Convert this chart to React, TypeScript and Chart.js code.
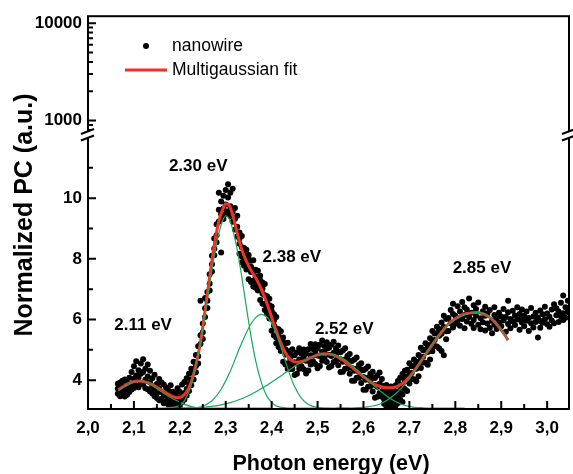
import React, { useEffect, useRef } from "react";
import { Chart, registerables } from "chart.js";

Chart.register(...registerables);

// ---------- data ----------
// Each row: photon energy (eV), then the normalized PC readings at that energy
const nanowireRows: number[][] = [
  [2.065, 3.72, 3.55, 3.88], [2.07, 3.64, 3.92, 3.47], [2.075, 3.81, 3.58, 3.98],
  [2.08, 3.7, 3.46, 4.02], [2.085, 3.93, 3.66, 3.52], [2.09, 4.08, 3.79, 3.61],
  [2.095, 4.27, 3.86, 3.69], [2.1, 4.46, 4.05, 3.74], [2.105, 4.62, 4.15, 3.83],
  [2.11, 4.33, 4.08, 3.77], [2.115, 4.55, 3.9, 4.21], [2.12, 4.69, 4.27, 3.86],
  [2.125, 4.38, 4.01, 3.73], [2.13, 4.12, 3.7, 4.52], [2.135, 3.93, 4.31, 3.63],
  [2.14, 3.8, 4.06, 3.57], [2.145, 4.18, 3.72, 3.47], [2.15, 3.87, 3.56, 3.41],
  [2.155, 3.73, 4.04, 3.34], [2.16, 3.61, 3.92, 3.38], [2.165, 3.49, 3.86, 3.24],
  [2.17, 3.57, 3.31, 3.76], [2.175, 3.41, 3.66, 3.19], [2.18, 3.51, 3.26, 3.83],
  [2.185, 3.33, 3.14, 3.62], [2.19, 3.27, 3.56, 3.1], [2.195, 3.44, 3.19, 3.73],
  [2.2, 3.37, 3.13, 3.61], [2.205, 3.5, 3.27, 3.86], [2.21, 3.58, 3.36, 3.94],
  [2.215, 3.71, 3.49, 4.06], [2.22, 3.87, 3.64, 4.21], [2.225, 4.02, 3.83, 4.38],
  [2.23, 4.24, 4.02, 4.61], [2.235, 4.47, 4.26, 4.83], [2.24, 4.79, 5.12, 4.55],
  [2.245, 5.19, 5.48, 6.62], [2.25, 5.58, 5.87, 5.36], [2.255, 6.08, 6.37, 6.71],
  [2.26, 6.62, 6.91, 6.38], [2.265, 7.18, 7.49, 6.96], [2.27, 7.82, 8.1, 7.58],
  [2.275, 8.33, 8.67, 8.12], [2.28, 8.78, 9.14, 8.55], [2.285, 9.23, 9.62, 10.18],
  [2.29, 9.47, 9.89, 8.21], [2.295, 9.66, 10.08, 9.31], [2.3, 9.79, 10.27, 9.48],
  [2.305, 10.02, 10.46, 9.57], [2.31, 9.73, 10.18, 9.41], [2.315, 9.55, 10.31, 9.22],
  [2.32, 9.31, 9.68, 8.97], [2.325, 9.06, 9.42, 8.74],
  [2.33, 8.87, 8.5, 8.17, 8.67], [2.335, 8.38, 8.75, 8.08, 7.89], [2.34, 7.95, 8.36, 8.14, 7.77],
  [2.345, 8.3, 7.65, 8.09, 7.84], [2.35, 7.75, 7.98, 7.33, 8.13], [2.355, 7.94, 7.57, 7.24, 7.74],
  [2.36, 7.58, 7.95, 7.28, 7.09], [2.365, 7.23, 7.64, 7.42, 7.05], [2.37, 7.61, 6.96, 7.4, 7.15],
  [2.375, 7.06, 7.29, 6.64, 7.44], [2.38, 7.22, 6.85, 6.52, 7.02], [2.385, 6.8, 7.17, 6.5, 6.31],
  [2.39, 6.36, 6.77, 6.55, 6.18], [2.395, 6.68, 6.03, 6.47, 6.22], [2.4, 6.05, 6.28, 5.63, 6.43],
  [2.405, 6.17, 5.8, 5.47, 5.97], [2.41, 5.71, 6.08, 5.41, 5.22], [2.415, 5.27, 5.68, 5.46, 5.09],
  [2.42, 5.61, 4.96, 5.4, 5.15], [2.425, 5.03, 5.26, 4.61, 5.41], [2.43, 5.22, 4.85, 4.52, 5.02],
  [2.435, 4.86, 5.23, 4.56, 4.37], [2.44, 4.55, 4.96, 4.74, 4.37], [2.445, 5.02, 4.37, 4.81, 4.56],
  [2.45, 4.59, 4.82, 4.17], [2.455, 4.91, 4.54, 4.21], [2.46, 4.68, 5.05, 4.38],
  [2.465, 4.46, 4.87, 4.65], [2.47, 5.01, 4.36, 4.8], [2.475, 4.64, 4.87, 4.22],
  [2.48, 5.02, 4.65, 4.32], [2.485, 4.82, 5.19, 4.52], [2.49, 4.62, 5.03, 4.81],
  [2.495, 5.18, 4.53, 4.97], [2.5, 4.81, 5.04, 4.39], [2.505, 5.17, 4.8, 4.47],
  [2.51, 4.94, 5.31, 4.64], [2.515, 4.72, 5.13, 4.91], [2.52, 5.25, 4.6, 5.04],
  [2.525, 4.84, 5.07, 4.42], [2.53, 5.17, 4.8, 4.47], [2.535, 4.9, 5.27, 4.6],
  [2.54, 4.64, 5.05, 4.83], [2.545, 5.14, 4.49, 4.93], [2.55, 4.69, 4.92, 4.27],
  [2.555, 4.98, 4.61, 4.28], [2.56, 4.68, 5.05, 4.38], [2.565, 4.39, 4.8, 4.58],
  [2.57, 4.86, 4.21, 4.65], [2.575, 4.4, 4.63, 3.98], [2.58, 4.68, 4.31, 3.98],
  [2.585, 4.38, 4.75, 4.08], [2.59, 4.09, 4.5, 4.28], [2.595, 4.56, 3.91, 4.35],
  [2.6, 4.1, 4.33, 3.68], [2.605, 4.38, 4.01, 3.68], [2.61, 4.08, 4.45, 3.78],
  [2.615, 3.8, 4.21, 3.99], [2.62, 4.28, 3.63, 4.07], [2.625, 3.84, 4.07, 3.42],
  [2.63, 4.15, 3.78, 3.45], [2.635, 3.88, 4.25, 3.58], [2.64, 3.63, 4.04, 3.82, 3.45],
  [2.645, 3.67, 3.37, 3.22, 3.52], [2.65, 3.61, 3.34, 3.13, 3.84], [2.655, 3.68, 3.28, 3.1, 3.45],
  [2.66, 3.57, 3.27, 3.14, 3.79], [2.665, 3.72, 3.34, 3.11, 3.5], [2.67, 3.83, 3.48, 3.16, 3.62],
  [2.675, 3.97, 3.6, 3.25, 3.41], [2.68, 4.08, 3.77, 3.35, 3.58], [2.685, 4.2, 3.86, 3.53, 3.28],
  [2.69, 4.31, 3.98, 4.12, 3.71], [2.695, 4.34, 3.97, 3.64], [2.7, 4.19, 4.56, 3.89],
  [2.705, 4.05, 4.46, 4.24], [2.71, 4.68, 4.03, 4.47], [2.715, 4.38, 4.61, 3.96],
  [2.72, 4.83, 4.46, 4.13], [2.725, 4.7, 5.07, 4.4], [2.73, 4.58, 4.99, 4.77],
  [2.735, 5.22, 4.57, 5.01], [2.74, 4.93, 5.16, 4.51], [2.745, 5.38, 5.01, 4.68],
  [2.75, 5.25, 5.62, 4.95], [2.755, 5.13, 5.54, 5.32], [2.76, 5.76, 5.11, 5.55],
  [2.765, 5.46, 5.69, 5.04], [2.77, 5.9, 5.53, 4.96], [2.775, 5.75, 6.12, 4.82],
  [2.78, 5.61, 6.02, 5.35], [2.785, 6.05, 5.62], [2.79, 6.31, 5.88],
  [2.795, 5.74, 6.18, 6.52], [2.8, 6.12, 5.86], [2.805, 6.44, 5.95],
  [2.81, 5.79, 6.26], [2.815, 6.58, 6.02], [2.82, 6.15, 5.71, 6.4],
  [2.825, 5.93, 6.33], [2.83, 6.69, 6.08], [2.835, 5.86, 6.22],
  [2.84, 6.47, 5.98, 5.72], [2.845, 6.12, 6.35], [2.85, 5.83, 6.56],
  [2.855, 6.04, 5.68], [2.86, 6.27, 5.91], [2.865, 5.64, 6.12, 6.42],
  [2.87, 5.87, 6.2], [2.875, 6.31, 5.72], [2.88, 5.96, 5.55],
  [2.885, 6.15, 5.83, 6.4], [2.89, 5.69, 6.05], [2.895, 6.22, 5.9],
  [2.9, 5.78, 6.1], [2.905, 6.35, 5.97], [2.91, 5.6, 6.08],
  [2.915, 6.62, 5.85, 6.24], [2.92, 6.02, 5.71], [2.925, 6.29, 5.94],
  [2.93, 5.82, 6.13], [2.935, 6.4, 6.0], [2.94, 5.66, 6.18],
  [2.945, 6.07, 5.9, 6.33], [2.95, 5.78, 6.12], [2.955, 6.26, 5.96],
  [2.96, 5.62, 6.05], [2.965, 6.38, 5.88], [2.97, 6.1, 5.74],
  [2.975, 5.92, 6.22], [2.98, 5.41, 6.06], [2.985, 5.73, 6.3, 5.95],
  [2.99, 6.17, 5.89], [2.995, 6.42, 6.01], [3.0, 5.84, 6.2],
  [3.005, 6.09, 5.76], [3.01, 6.33, 5.97], [3.015, 5.88, 6.5],
  [3.02, 6.14, 6.37], [3.025, 5.92, 6.26], [3.03, 6.55, 6.1],
  [3.035, 6.79, 6.21, 5.98], [3.04, 6.4, 6.06], [3.045, 6.62, 6.25],
];

// Multigaussian fit (sum)
const fitEnergy = [2.066, 2.08, 2.095, 2.11, 2.125, 2.14, 2.155, 2.17, 2.185, 2.195, 2.205, 2.215, 2.225, 2.235, 2.245, 2.255, 2.265, 2.275, 2.285, 2.293, 2.3, 2.307, 2.315, 2.325, 2.335, 2.345, 2.355, 2.365, 2.375, 2.385, 2.395, 2.405, 2.415, 2.425, 2.435, 2.445, 2.455, 2.47, 2.485, 2.5, 2.515, 2.53, 2.545, 2.56, 2.575, 2.59, 2.605, 2.62, 2.635, 2.65, 2.665, 2.68, 2.695, 2.71, 2.725, 2.74, 2.755, 2.77, 2.785, 2.8, 2.815, 2.83, 2.845, 2.86, 2.875, 2.89, 2.905, 2.915];
const fitPC = [3.68, 3.82, 3.93, 3.97, 3.94, 3.85, 3.72, 3.58, 3.46, 3.42, 3.46, 3.62, 3.95, 4.5, 5.25, 6.3, 7.4, 8.45, 9.25, 9.62, 9.82, 9.78, 9.45, 8.85, 8.3, 7.92, 7.62, 7.38, 7.08, 6.72, 6.3, 5.85, 5.42, 5.05, 4.78, 4.64, 4.59, 4.63, 4.74, 4.83, 4.87, 4.85, 4.76, 4.6, 4.42, 4.24, 4.06, 3.9, 3.8, 3.75, 3.76, 3.84, 4.02, 4.3, 4.62, 4.95, 5.28, 5.58, 5.85, 6.03, 6.15, 6.21, 6.23, 6.19, 6.07, 5.84, 5.55, 5.32];

// Gaussian components
const peak211Energy = [2.066, 2.08, 2.095, 2.11, 2.125, 2.14, 2.155, 2.17, 2.18, 2.195, 2.21, 2.225, 2.24, 2.26, 2.29, 2.33, 2.4];
const peak211PC = [3.66, 3.8, 3.92, 3.97, 3.94, 3.83, 3.67, 3.52, 3.43, 3.31, 3.2, 3.13, 3.09, 3.08, 3.08, 3.08, 3.08];

const peak230Energy = [2.14, 2.17, 2.19, 2.205, 2.215, 2.225, 2.235, 2.245, 2.255, 2.265, 2.275, 2.285, 2.293, 2.3, 2.307, 2.315, 2.325, 2.335, 2.345, 2.355, 2.365, 2.375, 2.385, 2.395, 2.41, 2.43, 2.46, 2.5];
const peak230PC = [3.08, 3.09, 3.12, 3.22, 3.45, 3.85, 4.45, 5.2, 6.15, 7.15, 8.1, 8.85, 9.25, 9.42, 9.33, 8.98, 8.3, 7.4, 6.4, 5.45, 4.65, 4.05, 3.62, 3.35, 3.15, 3.09, 3.08, 3.08];

const peak238Energy = [2.2, 2.23, 2.25, 2.27, 2.29, 2.31, 2.33, 2.35, 2.365, 2.377, 2.39, 2.405, 2.42, 2.435, 2.45, 2.465, 2.48, 2.5, 2.53, 2.57];
const peak238PC = [3.08, 3.09, 3.14, 3.32, 3.7, 4.3, 5.05, 5.72, 6.06, 6.17, 6.08, 5.72, 5.1, 4.38, 3.78, 3.4, 3.2, 3.1, 3.08, 3.08];

const peak252Energy = [2.18, 2.22, 2.26, 2.3, 2.34, 2.38, 2.42, 2.46, 2.49, 2.52, 2.55, 2.58, 2.6, 2.62, 2.64, 2.66, 2.68, 2.7, 2.73, 2.77, 2.82];
const peak252PC = [3.08, 3.09, 3.12, 3.22, 3.42, 3.74, 4.14, 4.55, 4.78, 4.87, 4.76, 4.42, 4.14, 3.86, 3.6, 3.38, 3.22, 3.13, 3.09, 3.08, 3.08];

const peak285Energy = [2.54, 2.58, 2.61, 2.64, 2.67, 2.7, 2.72, 2.74, 2.76, 2.78, 2.8, 2.82, 2.84, 2.85, 2.86, 2.88, 2.9, 2.915];
const peak285PC = [3.08, 3.09, 3.12, 3.24, 3.55, 4.05, 4.5, 4.97, 5.4, 5.75, 6.0, 6.16, 6.22, 6.23, 6.2, 6.02, 5.65, 5.32];

// Peak annotations (anchored in data units)
const peakLabels = ["2.30 eV", "2.38 eV", "2.11 eV", "2.52 eV", "2.85 eV"];
const peakLabelEnergy = [2.24, 2.444, 2.12, 2.558, 2.858];
const peakLabelPC = [11.05, 8.05, 5.8, 5.68, 7.68];

// Axis tick labels
const xTickLabels = ["2,0", "2,1", "2,2", "2,3", "2,4", "2,5", "2,6", "2,7", "2,8", "2,9", "3,0"];
const yLinTickValues = [4, 5, 6, 7, 8, 9, 10, 11];
const yLinTickLabels = ["4", "", "6", "", "8", "", "10", ""];
const yLogTickValues = [1000, 10000];
const yLogTickLabels = ["1000", "10000"];

const seriesNames = ["nanowire", "Multigaussian fit"];

// ---------- styling ----------
const FONT = "'Liberation Sans', Arial, Helvetica, sans-serif";
const RED = "#ef3323";
const GREEN = "#16a85c";

const toPoints = (xs: number[], ys: number[]) => xs.map((x, i) => ({ x, y: ys[i] }));

const decoPlugin = {
  id: "deco",
  afterDatasetsDraw(chart: any) {
    const { ctx, chartArea: a, scales } = chart;
    const xS = scales.x;
    const yLin = scales.yLin;
    const yLog = scales.yLog;
    ctx.save();
    // frame
    ctx.strokeStyle = "#000";
    ctx.lineWidth = 2;
    ctx.strokeRect(a.left, a.top, a.right - a.left, a.bottom - a.top);

    ctx.beginPath();
    // x ticks (inward)
    xS.ticks.forEach((t: any, i: number) => {
      const px = xS.getPixelForValue(t.value);
      const len = i % 2 === 0 ? 8 : 5;
      ctx.moveTo(px, a.bottom);
      ctx.lineTo(px, a.bottom - len);
    });
    // linear y ticks
    yLin.ticks.forEach((t: any, i: number) => {
      const py = yLin.getPixelForValue(t.value);
      const len = yLinTickLabels[i] ? 8 : 5;
      ctx.moveTo(a.left, py);
      ctx.lineTo(a.left + len, py);
    });
    // log y ticks: majors + minors (2..9 x decade)
    for (let d = 100; d <= 10000; d *= 10) {
      for (let m = 1; m <= 9; m++) {
        const v = d * m;
        if (v < yLog.min || v > yLog.max) continue;
        const py = yLog.getPixelForValue(v);
        const len = m === 1 ? 8 : 5;
        ctx.moveTo(a.left, py);
        ctx.lineTo(a.left + len, py);
      }
    }
    ctx.stroke();

    // axis breaks
    const yb = yLog.bottom + 0.5;
    [a.left, a.right].forEach((bx) => {
      ctx.fillStyle = "#fff";
      ctx.beginPath();
      ctx.moveTo(bx - 7, yb);
      ctx.lineTo(bx + 6, yb - 5);
      ctx.lineTo(bx + 6, yb + 1.5);
      ctx.lineTo(bx - 7, yb + 6.5);
      ctx.closePath();
      ctx.fill();
      ctx.beginPath();
      ctx.moveTo(bx - 7, yb);
      ctx.lineTo(bx + 6, yb - 5);
      ctx.moveTo(bx - 7, yb + 6.5);
      ctx.lineTo(bx + 6, yb + 1.5);
      ctx.stroke();
    });

    // peak labels
    ctx.fillStyle = "#000";
    ctx.font = `bold 17px ${FONT}`;
    ctx.textAlign = "center";
    ctx.textBaseline = "middle";
    peakLabels.forEach((s, i) => {
      ctx.fillText(s, xS.getPixelForValue(peakLabelEnergy[i]), yLin.getPixelForValue(peakLabelPC[i]));
    });

    // legend
    ctx.font = `17.5px ${FONT}`;
    ctx.textAlign = "left";
    ctx.beginPath();
    ctx.arc(146, 46, 3, 0, Math.PI * 2);
    ctx.fill();
    ctx.fillText(seriesNames[0], 172, 46);
    ctx.strokeStyle = RED;
    ctx.lineWidth = 3;
    ctx.beginPath();
    ctx.moveTo(125, 70);
    ctx.lineTo(167, 70);
    ctx.stroke();
    ctx.fillText(seriesNames[1], 172, 70);

    // axis titles
    ctx.font = `bold 21.5px ${FONT}`;
    ctx.textAlign = "center";
    ctx.textBaseline = "alphabetic";
    ctx.fillText("Photon energy (eV)", 331, 470);
    ctx.save();
    ctx.translate(31.5, 215);
    ctx.rotate(-Math.PI / 2);
    ctx.font = `bold 25px ${FONT}`;
    ctx.fillText("Normalized PC (a.u.)", 0, 0);
    ctx.restore();

    ctx.restore();
  },
};

export default function App() {
  const ref = useRef<HTMLCanvasElement | null>(null);

  useEffect(() => {
    if (!ref.current) return;
    const dots: { x: number; y: number }[] = [];
    nanowireRows.forEach((row) => {
      for (let k = 1; k < row.length; k++) dots.push({ x: row[0], y: row[k] });
    });
    const comp = (xs: number[], ys: number[]) => ({
      data: toPoints(xs, ys),
      showLine: true,
      borderColor: GREEN,
      borderWidth: 1.2,
      pointRadius: 0,
      cubicInterpolationMode: "monotone" as const,
      yAxisID: "yLin",
      order: 1,
    });
    const tickFont = { family: FONT, size: 17, weight: "bold" as const };

    const chart = new Chart(ref.current, {
      type: "scatter",
      data: {
        datasets: [
          comp(peak211Energy, peak211PC),
          comp(peak230Energy, peak230PC),
          comp(peak238Energy, peak238PC),
          comp(peak252Energy, peak252PC),
          comp(peak285Energy, peak285PC),
          {
            label: seriesNames[1],
            data: toPoints(fitEnergy, fitPC),
            showLine: true,
            borderColor: RED,
            borderWidth: 3,
            pointRadius: 0,
            cubicInterpolationMode: "monotone",
            yAxisID: "yLin",
            order: 2,
          } as any,
          {
            label: seriesNames[0],
            data: dots,
            backgroundColor: "#000",
            borderWidth: 0,
            pointRadius: 3,
            yAxisID: "yLin",
            order: 3,
          },
        ],
      },
      options: {
        animation: false,
        responsive: false,
        layout: { padding: { top: 14, right: 1, left: 0, bottom: 0 } },
        plugins: { legend: { display: false }, tooltip: { enabled: false } },
        scales: {
          x: {
            type: "linear",
            min: 2.0,
            max: 3.0476,
            grid: { display: false, drawTicks: false },
            border: { display: false },
            afterBuildTicks: (s: any) => {
              const t = [];
              for (let i = 0; i <= 20; i++) t.push({ value: 2 + i * 0.05 });
              s.ticks = t;
            },
            afterFit: (s: any) => {
              s.height = 65;
            },
            ticks: {
              autoSkip: false,
              maxRotation: 0,
              padding: 9,
              color: "#000",
              font: tickFont,
              callback: (_v: any, i: number) => (i % 2 === 0 ? xTickLabels[i / 2] : ""),
            },
          },
          yLin: {
            type: "linear",
            position: "left",
            stack: "y",
            stackWeight: 277,
            weight: 0,
            min: 3.049,
            max: 12.131,
            grid: { display: false, drawTicks: false },
            border: { display: false },
            afterBuildTicks: (s: any) => {
              s.ticks = yLinTickValues.map((v) => ({ value: v }));
            },
            afterFit: (s: any) => {
              s.width = 88;
            },
            ticks: {
              autoSkip: false,
              padding: 6,
              color: "#000",
              font: tickFont,
              callback: (_v: any, i: number) => yLinTickLabels[i],
            },
          },
          yLog: {
            type: "logarithmic",
            position: "left",
            stack: "y",
            stackWeight: 118,
            weight: 1,
            min: 736.8,
            max: 11786,
            grid: { display: false, drawTicks: false },
            border: { display: false },
            afterBuildTicks: (s: any) => {
              s.ticks = yLogTickValues.map((v) => ({ value: v }));
            },
            afterFit: (s: any) => {
              s.width = 88;
            },
            ticks: {
              autoSkip: false,
              padding: 6,
              color: "#000",
              font: tickFont,
              callback: (_v: any, i: number) => yLogTickLabels[i],
            },
          },
        },
      } as any,
      plugins: [decoPlugin],
    });
    return () => chart.destroy();
  }, []);

  return (
    <div style={{ position: "fixed", left: 0, top: 0, width: 573, height: 474, background: "#fff" }}>
      <canvas ref={ref} width={573} height={474} style={{ display: "block" }} />
    </div>
  );
}
